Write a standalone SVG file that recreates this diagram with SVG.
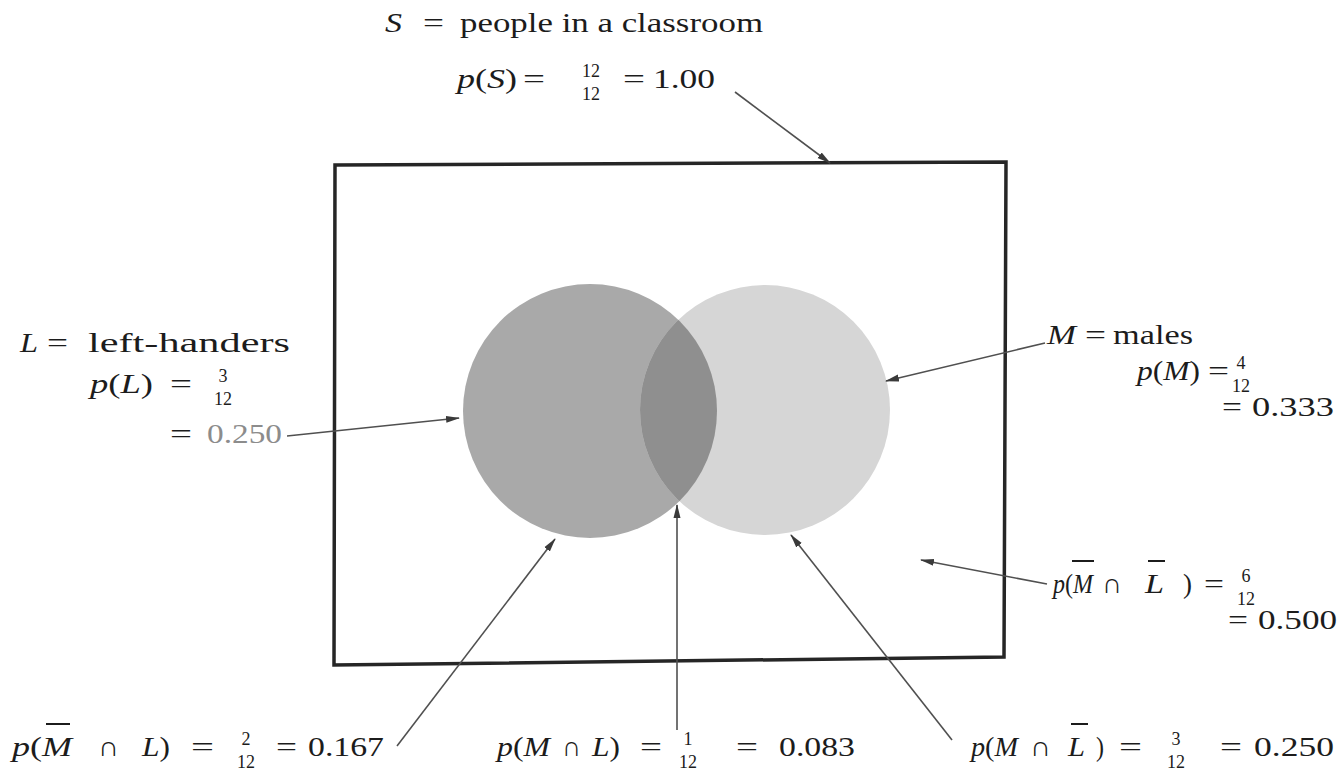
<svg xmlns="http://www.w3.org/2000/svg" width="1342" height="777" viewBox="0 0 1342 777">
<defs>
<style>
.t{font-family:"Liberation Serif","Times New Roman",serif;font-size:28px;fill:#1c1c1c}
.i{font-style:italic}
.f{font-family:"Liberation Serif","Times New Roman",serif;font-size:18px;fill:#1c1c1c;text-anchor:middle}
.g{fill:#8c8c8c}
.c{stroke:#505050;stroke-width:1.6;fill:none;marker-end:url(#ah)}
.bar{stroke:#1c1c1c;stroke-width:2}
</style>
<marker id="ah" viewBox="0 0 14 8" refX="13" refY="4" markerWidth="14" markerHeight="8" markerUnits="userSpaceOnUse" orient="auto">
<path d="M0,0.5 L14,4 L0,7.5 Z" fill="#3a3a3a"/>
</marker>
<clipPath id="clipL"><circle cx="590" cy="411" r="127"/></clipPath>
</defs>
<rect width="1342" height="777" fill="#ffffff"/>

<g id="sample-space">
<polygon points="335,165 1006,162 1004,657 334,665" fill="none" stroke="#262626" stroke-width="3.5"/>
</g>

<g id="circle-L">
<circle cx="590" cy="411" r="127" fill="#a9a9a9"/>
</g>
<g id="circle-M">
<circle cx="765" cy="410" r="125" fill="#d6d6d6"/>
</g>
<g id="intersection">
<circle cx="765" cy="410" r="125" fill="#8f8f8f" clip-path="url(#clipL)"/>
</g>

<g id="connectors">
<line class="c" x1="735" y1="92" x2="830" y2="163"/>
<line class="c" x1="287" y1="436" x2="459" y2="418"/>
<line class="c" x1="1045" y1="343" x2="886" y2="381"/>
<line class="c" x1="1047" y1="584" x2="921" y2="560"/>
<line class="c" x1="397" y1="746" x2="555" y2="539"/>
<line class="c" x1="677" y1="730" x2="677" y2="505"/>
<line class="c" x1="952" y1="740" x2="791" y2="535"/>
</g>

<g id="label-S">
<text class="t i" x="385" y="32" textLength="17" lengthAdjust="spacingAndGlyphs">S</text>
<text class="t" x="423" y="32" textLength="21" lengthAdjust="spacingAndGlyphs">=</text>
<text class="t" x="460" y="32" textLength="303" lengthAdjust="spacingAndGlyphs">people in a classroom</text>
<text class="t" x="457" y="88" textLength="60" lengthAdjust="spacingAndGlyphs"><tspan class="i">p</tspan>(<tspan class="i">S</tspan>)</text>
<text class="t" x="523" y="88" textLength="22" lengthAdjust="spacingAndGlyphs">=</text>
<text class="f" x="591" y="77">12</text>
<text class="f" x="591" y="100">12</text>
<text class="t" x="623" y="88" textLength="22" lengthAdjust="spacingAndGlyphs">=</text>
<text class="t" x="653" y="88" textLength="62" lengthAdjust="spacingAndGlyphs">1.00</text>
</g>

<g id="label-L">
<text class="t i" x="20" y="352" textLength="18" lengthAdjust="spacingAndGlyphs">L</text>
<text class="t" x="47" y="352" textLength="21" lengthAdjust="spacingAndGlyphs">=</text>
<text class="t" x="88" y="352" textLength="202" lengthAdjust="spacingAndGlyphs">left-handers</text>
<text class="t" x="90" y="393" textLength="63" lengthAdjust="spacingAndGlyphs"><tspan class="i">p</tspan>(<tspan class="i">L</tspan>)</text>
<text class="t" x="170" y="393" textLength="22" lengthAdjust="spacingAndGlyphs">=</text>
<text class="f" x="223" y="382">3</text>
<text class="f" x="223" y="405">12</text>
<text class="t" x="170" y="443" textLength="22" lengthAdjust="spacingAndGlyphs">=</text>
<text class="t g" x="207" y="443" textLength="75" lengthAdjust="spacingAndGlyphs">0.250</text>
</g>

<g id="label-M">
<text class="t i" x="1047" y="344" textLength="29" lengthAdjust="spacingAndGlyphs">M</text>
<text class="t" x="1085" y="344" textLength="21" lengthAdjust="spacingAndGlyphs">=</text>
<text class="t" x="1113" y="344" textLength="80" lengthAdjust="spacingAndGlyphs">males</text>
<text class="t" x="1137" y="380" textLength="63" lengthAdjust="spacingAndGlyphs"><tspan class="i">p</tspan>(<tspan class="i">M</tspan>)</text>
<text class="t" x="1208" y="380" textLength="21" lengthAdjust="spacingAndGlyphs">=</text>
<text class="f" x="1241" y="369">4</text>
<text class="f" x="1241" y="392">12</text>
<text class="t" x="1222" y="416" textLength="20" lengthAdjust="spacingAndGlyphs">=</text>
<text class="t" x="1252" y="416" textLength="82" lengthAdjust="spacingAndGlyphs">0.333</text>
</g>

<g id="label-notM-notL">
<text class="t" x="1053" y="593" textLength="40" lengthAdjust="spacingAndGlyphs"><tspan class="i">p</tspan>(<tspan class="i">M</tspan></text>
<line class="bar" x1="1072" y1="561" x2="1094" y2="561"/>
<text class="t" x="1102" y="593" textLength="20" lengthAdjust="spacingAndGlyphs">∩</text>
<text class="t i" x="1145" y="593" textLength="19" lengthAdjust="spacingAndGlyphs">L</text>
<line class="bar" x1="1148" y1="561" x2="1165" y2="561"/>
<text class="t" x="1183" y="593" textLength="9" lengthAdjust="spacingAndGlyphs">)</text>
<text class="t" x="1204" y="593" textLength="20" lengthAdjust="spacingAndGlyphs">=</text>
<text class="f" x="1246" y="582">6</text>
<text class="f" x="1246" y="605">12</text>
<text class="t" x="1228" y="629" textLength="20" lengthAdjust="spacingAndGlyphs">=</text>
<text class="t" x="1258" y="629" textLength="79" lengthAdjust="spacingAndGlyphs">0.500</text>
</g>

<g id="label-notM-L">
<text class="t" x="12" y="756" textLength="60" lengthAdjust="spacingAndGlyphs"><tspan class="i">p</tspan>(<tspan class="i">M</tspan></text>
<line class="bar" x1="46" y1="724" x2="70" y2="724"/>
<text class="t" x="98" y="756" textLength="21" lengthAdjust="spacingAndGlyphs">∩</text>
<text class="t" x="142" y="756" textLength="28" lengthAdjust="spacingAndGlyphs"><tspan class="i">L</tspan>)</text>
<text class="t" x="191" y="756" textLength="23" lengthAdjust="spacingAndGlyphs">=</text>
<text class="f" x="246" y="745">2</text>
<text class="f" x="246" y="768">12</text>
<text class="t" x="276" y="756" textLength="21" lengthAdjust="spacingAndGlyphs">=</text>
<text class="t" x="308" y="756" textLength="76" lengthAdjust="spacingAndGlyphs">0.167</text>
</g>

<g id="label-M-L">
<text class="t" x="497" y="756" textLength="53" lengthAdjust="spacingAndGlyphs"><tspan class="i">p</tspan>(<tspan class="i">M</tspan></text>
<text class="t" x="562" y="756" textLength="19" lengthAdjust="spacingAndGlyphs">∩</text>
<text class="t" x="592" y="756" textLength="28" lengthAdjust="spacingAndGlyphs"><tspan class="i">L</tspan>)</text>
<text class="t" x="640" y="756" textLength="22" lengthAdjust="spacingAndGlyphs">=</text>
<text class="f" x="688" y="745">1</text>
<text class="f" x="688" y="768">12</text>
<text class="t" x="736" y="756" textLength="22" lengthAdjust="spacingAndGlyphs">=</text>
<text class="t" x="779" y="756" textLength="76" lengthAdjust="spacingAndGlyphs">0.083</text>
</g>

<g id="label-M-notL">
<text class="t" x="971" y="756" textLength="47" lengthAdjust="spacingAndGlyphs"><tspan class="i">p</tspan>(<tspan class="i">M</tspan></text>
<text class="t" x="1030" y="756" textLength="21" lengthAdjust="spacingAndGlyphs">∩</text>
<text class="t i" x="1068" y="756" textLength="17" lengthAdjust="spacingAndGlyphs">L</text>
<line class="bar" x1="1071" y1="724" x2="1088" y2="724"/>
<text class="t" x="1096" y="756" textLength="8" lengthAdjust="spacingAndGlyphs">)</text>
<text class="t" x="1119" y="756" textLength="23" lengthAdjust="spacingAndGlyphs">=</text>
<text class="f" x="1176" y="745">3</text>
<text class="f" x="1176" y="768">12</text>
<text class="t" x="1220" y="756" textLength="22" lengthAdjust="spacingAndGlyphs">=</text>
<text class="t" x="1254" y="756" textLength="80" lengthAdjust="spacingAndGlyphs">0.250</text>
</g>
</svg>
